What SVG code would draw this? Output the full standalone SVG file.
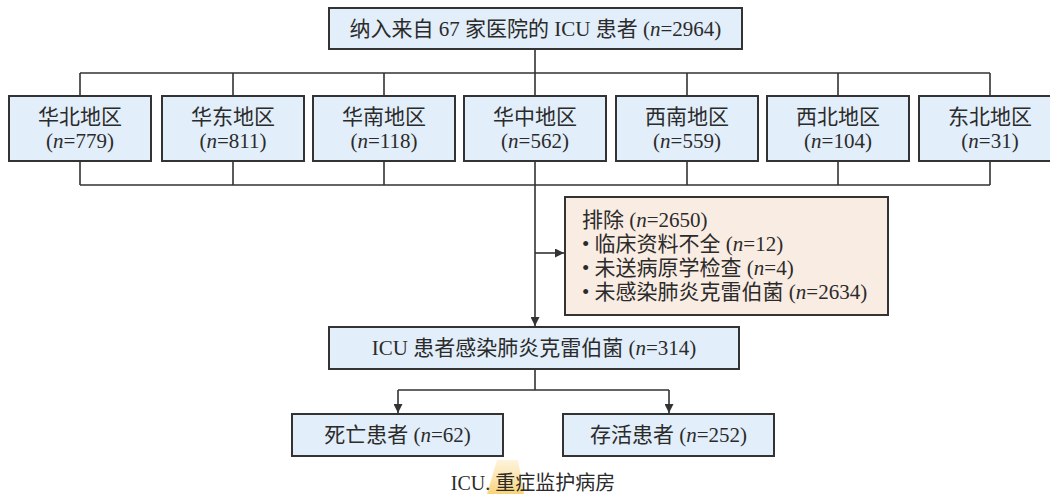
<svg xmlns="http://www.w3.org/2000/svg" width="1050" height="494" viewBox="0 0 1050 494">
<style>
.box{fill:#e2eef9;stroke:#333;stroke-width:2}
.ex{fill:#f9ece2;stroke:#333;stroke-width:2}
.ln{fill:none;stroke:#333;stroke-width:1.6}
text{font-family:"Liberation Serif","Noto Sans CJK SC",serif;font-size:21px;fill:#2b2b2b}
.c{text-anchor:middle}
.i{font-style:italic}
</style>
<defs>
<marker id="ah" viewBox="0 0 10 10" refX="9" refY="5" markerWidth="6" markerHeight="6" orient="auto" markerUnits="userSpaceOnUse">
<path d="M0,0 L10,5 L0,10 Z" fill="#333"/>
</marker>
<marker id="a" viewBox="0 0 10 10" refX="10" refY="5" markerWidth="10" markerHeight="9" orient="auto" markerUnits="userSpaceOnUse">
<path d="M0,0 L10,5 L0,10 Z" fill="#333"/>
</marker>
<linearGradient id="hl" x1="0" y1="0" x2="0" y2="1">
<stop offset="0" stop-color="#fbd98a" stop-opacity="0.3"/>
<stop offset="1" stop-color="#f8cf6a" stop-opacity="0.9"/>
</linearGradient>
</defs>
<g id="connectors">
<path class="ln" d="M535,49 V73 M80,73 H990 M80,73 V96 M233,73 V96 M384,73 V96 M535,73 V96 M687,73 V96 M838,73 V96 M990,73 V96"/>
<path class="ln" d="M80,161 V185 M233,161 V185 M384,161 V185 M535,161 V185 M687,161 V185 M838,161 V185 M990,161 V185 M80,185 H990"/>
<path class="ln" d="M535,185 V326" marker-end="url(#a)"/>
<path class="ln" d="M535,253 H564" marker-end="url(#a)"/>
<path class="ln" d="M535,369 V390 M398,390 H669"/>
<path class="ln" d="M398,390 V413" marker-end="url(#a)"/>
<path class="ln" d="M669,390 V413" marker-end="url(#a)"/>
</g>
<g id="top">
<rect class="box" x="329" y="8" width="413" height="41"/>
<text class="c" x="535.5" y="36">纳入来自 67 家医院的 ICU 患者 (<tspan class="i">n</tspan>=2964)</text>
</g>
<g id="r1"><rect class="box" x="9" y="96" width="142" height="65"/><text class="c" x="80" y="124">华北地区</text><text class="c" x="80" y="148">(<tspan class="i">n</tspan>=779)</text></g>
<g id="r2"><rect class="box" x="162" y="96" width="142" height="65"/><text class="c" x="233" y="124">华东地区</text><text class="c" x="233" y="148">(<tspan class="i">n</tspan>=811)</text></g>
<g id="r3"><rect class="box" x="313" y="96" width="142" height="65"/><text class="c" x="384" y="124">华南地区</text><text class="c" x="384" y="148">(<tspan class="i">n</tspan>=118)</text></g>
<g id="r4"><rect class="box" x="464" y="96" width="142" height="65"/><text class="c" x="535" y="124">华中地区</text><text class="c" x="535" y="148">(<tspan class="i">n</tspan>=562)</text></g>
<g id="r5"><rect class="box" x="616" y="96" width="142" height="65"/><text class="c" x="687" y="124">西南地区</text><text class="c" x="687" y="148">(<tspan class="i">n</tspan>=559)</text></g>
<g id="r6"><rect class="box" x="767" y="96" width="142" height="65"/><text class="c" x="838" y="124">西北地区</text><text class="c" x="838" y="148">(<tspan class="i">n</tspan>=104)</text></g>
<g id="r7"><rect class="box" x="919" y="96" width="142" height="65"/><text class="c" x="990" y="124">东北地区</text><text class="c" x="990" y="148">(<tspan class="i">n</tspan>=31)</text></g>
<g id="exclude">
<rect class="ex" x="565" y="197" width="323" height="118"/>
<text x="582" y="227">排除 (<tspan class="i">n</tspan>=2650)</text>
<text x="582" y="251">• 临床资料不全 (<tspan class="i">n</tspan>=12)</text>
<text x="582" y="275">• 未送病原学检查 (<tspan class="i">n</tspan>=4)</text>
<text x="582" y="299">• 未感染肺炎克雷伯菌 (<tspan class="i">n</tspan>=2634)</text>
</g>
<g id="icu">
<rect class="box" x="329" y="327" width="410" height="42"/>
<text class="c" x="534" y="355">ICU 患者感染肺炎克雷伯菌 (<tspan class="i">n</tspan>=314)</text>
</g>
<g id="dead">
<rect class="box" x="292" y="414" width="211" height="42"/>
<text class="c" x="397.5" y="442">死亡患者 (<tspan class="i">n</tspan>=62)</text>
</g>
<g id="alive">
<rect class="box" x="563" y="414" width="211" height="42"/>
<text class="c" x="668.5" y="442">存活患者 (<tspan class="i">n</tspan>=252)</text>
</g>
<polygon points="497,460 518,460 524,494 487,494" fill="url(#hl)"/>
<text class="c" x="533" y="490" style="font-size:20px">ICU. 重症监护病房</text>
</svg>
